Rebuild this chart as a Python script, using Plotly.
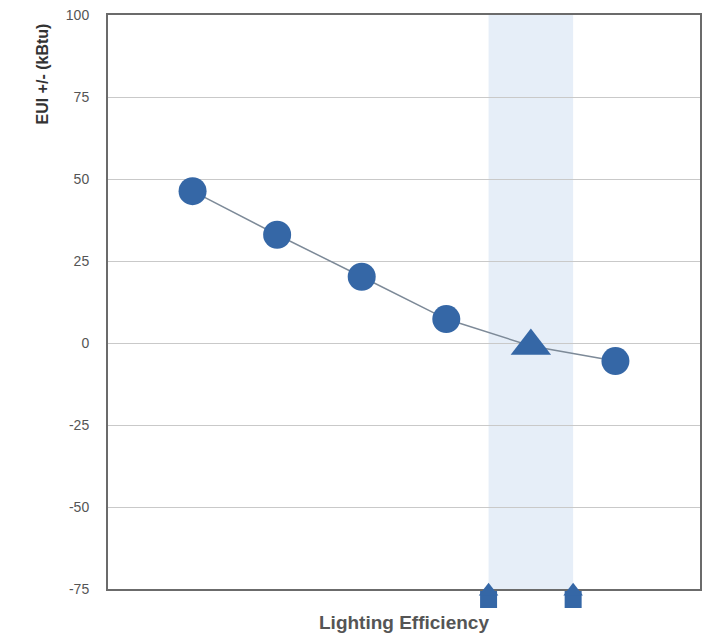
import plotly.graph_objects as go

x_pos = [0, 1, 2, 3, 4, 5]
eui = [46.3, 33.0, 20.2, 7.3, -0.9, -5.5]
symbols = ["circle", "circle", "circle", "circle", "triangle-up", "circle"]
sizes = [28, 28, 28, 28, 35, 28]

band_lo, band_hi = 3.5, 4.5
handle_x = [band_lo, band_hi]
handle_base_y = [-78.2, -78.2]
handle_roof_y = [-75.7, -75.7]

y_ticks = [100, 75, 50, 25, 0, -25, -50, -75]
y_ticktext = ["100", "75", "50", "25", "0", "-25", "-50", "-75"]
y_range = [-75, 100]

blue = "#3567a6"

# page body has an 8px margin; figure is sized so it fits the window
OFF = 8
W, H = 712 - OFF, 636 - OFF
M_L, M_R, M_T, M_B = 108 - OFF, 12, 15 - OFF, 4
plot_bottom_px = 589 - OFF
paper_h = H - M_T - M_B
main_h = plot_bottom_px - M_T
px_per_unit = main_h / (y_range[1] - y_range[0])
low_h = H - M_B - plot_bottom_px
split = low_h / paper_h

fig = go.Figure()
fig.add_trace(go.Scatter(
    x=x_pos, y=eui, mode="lines+markers",
    line=dict(color="#7d8a98", width=1.5),
    marker=dict(symbol=symbols, size=sizes, color=blue, opacity=1, line=dict(width=0)),
    showlegend=False, hoverinfo="y",
))
fig.add_trace(go.Scatter(
    x=handle_x, y=handle_base_y, mode="markers", xaxis="x2", yaxis="y2",
    marker=dict(symbol="square", size=17, color=blue, opacity=1),
    cliponaxis=False, showlegend=False, hoverinfo="skip",
))
fig.add_trace(go.Scatter(
    x=handle_x, y=handle_roof_y, mode="markers", xaxis="x2", yaxis="y2",
    marker=dict(symbol="triangle-up", size=17, color=blue, opacity=1),
    cliponaxis=False, showlegend=False, hoverinfo="skip",
))

fig.add_shape(type="rect", xref="x", yref="y domain", x0=band_lo, x1=band_hi,
              y0=0, y1=1, fillcolor="#e6eef8", line=dict(width=0), layer="below")

fig.update_layout(
    width=W, height=H,
    margin=dict(l=M_L, r=M_R, t=M_T, b=M_B),
    paper_bgcolor="white", plot_bgcolor="white",
    font=dict(family="Liberation Sans, Arial, sans-serif", color="#555555"),
    xaxis=dict(
        range=[-1, 6], showticklabels=False, showgrid=False, zeroline=False,
        showline=True, linecolor="#6b6b6b", linewidth=2, mirror=True, ticks="",
        anchor="y", automargin=False,
    ),
    yaxis=dict(
        domain=[split, 1], range=y_range, tickvals=y_ticks, ticktext=y_ticktext,
        showgrid=True, gridcolor="#c9c9c9", gridwidth=1,
        zeroline=False, showline=True, linecolor="#6b6b6b", linewidth=2, mirror=True,
        ticks="", ticklabelstandoff=14, automargin=False, ticklabeloverflow="allow",
        tickfont=dict(family="Liberation Sans, Arial, sans-serif", size=14, color="#555555"),
    ),
    xaxis2=dict(matches="x", anchor="y2", visible=False, showgrid=False, zeroline=False),
    yaxis2=dict(domain=[0, split], range=[y_range[0] - low_h / px_per_unit, y_range[0]],
                visible=False, showgrid=False, zeroline=False, fixedrange=True),
    annotations=[
        dict(text="<b>Lighting Efficiency</b>", xref="paper", yref="paper",
             x=0.5, y=(H - M_B - (622 - OFF)) / paper_h, xanchor="center", yanchor="middle",
             showarrow=False,
             font=dict(family="Liberation Sans Narrow, sans-serif", size=19, color="#555555")),
        dict(text="<b>EUI +/- (kBtu)</b>", xref="paper", yref="paper",
             x=(42 - 108) / (W - M_L - M_R), y=1 - (22 - 15) / paper_h,
             xanchor="center", yanchor="top", textangle=-90, showarrow=False,
             font=dict(family="Liberation Sans Narrow, sans-serif", size=16, color="#333333")),
    ],
)

fig.write_html("out.html")
